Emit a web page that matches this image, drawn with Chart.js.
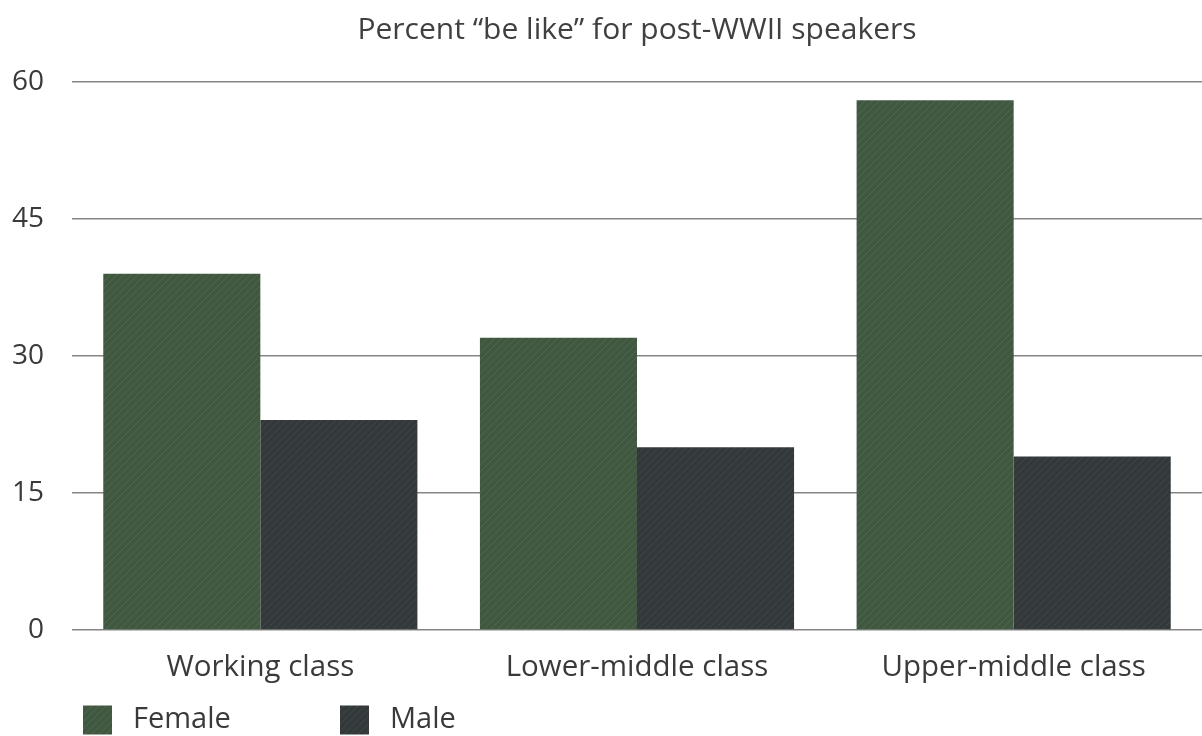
<!DOCTYPE html>
<html>
<head>
<meta charset="utf-8">
<script src="https://cdn.jsdelivr.net/npm/chart.js@4/dist/chart.umd.min.js"></script>
<style>
  html, body { margin: 0; padding: 0; background: #ffffff; }
  #wrap { width: 1202px; height: 736px; position: relative; }
</style>
</head>
<body>
<div id="wrap"><canvas id="c"></canvas></div>
<script>
const categories = ["Working class", "Lower-middle class", "Upper-middle class"];
const femaleValues = [39, 32, 58];
const maleValues = [23, 20, 19];
const seriesNames = ["Female", "Male"];
const yTicks = [0, 15, 30, 45, 60];
const titleText = "Percent \u201cbe like\u201d for post-WWII speakers";

const FONT = "'Open Sans', 'Liberation Sans', sans-serif";

function hatch(base, line) {
  const s = 7;
  const c = document.createElement('canvas');
  c.width = s; c.height = s;
  const g = c.getContext('2d');
  g.fillStyle = base; g.fillRect(0, 0, s, s);
  g.strokeStyle = line; g.lineWidth = 1;
  g.beginPath();
  g.moveTo(0, s); g.lineTo(s, 0);
  g.moveTo(-s, s); g.lineTo(s, -s);
  g.moveTo(0, 2 * s); g.lineTo(2 * s, 0);
  g.stroke();
  return g.createPattern(c, 'repeat');
}

const ctx = document.getElementById('c').getContext('2d');
const femaleFill = hatch('#415840', '#4e664c');
const maleFill = hatch('#33393b', '#3f4648');

const bottomLegend = {
  id: 'bottomLegend',
  afterDraw(chart) {
    const g = chart.ctx;
    const xs = [83, 340];
    const yc = 720;
    const box = 29;
    g.save();
    chart.data.datasets.forEach((ds, i) => {
      g.fillStyle = ds.backgroundColor;
      g.fillRect(xs[i], yc - box / 2, box, box);
      g.fillStyle = '#3a3a3a';
      g.font = "29px " + FONT;
      g.textBaseline = 'middle';
      g.textAlign = 'left';
      g.fillText(ds.label, xs[i] + box + 21, yc);
    });
    g.restore();
  }
};

new Chart(ctx, {
  type: 'bar',
  data: {
    labels: categories,
    datasets: [
      { label: seriesNames[0], data: femaleValues, backgroundColor: femaleFill, borderWidth: 0 },
      { label: seriesNames[1], data: maleValues, backgroundColor: maleFill, borderWidth: 0 }
    ]
  },
  options: {
    responsive: true,
    maintainAspectRatio: false,
    animation: false,
    layout: { padding: { left: 0, right: 0, top: 0, bottom: 50 } },
    datasets: { bar: { categoryPercentage: 0.834, barPercentage: 1.0 } },
    plugins: {
      legend: { display: false },
      tooltip: { enabled: false },
      title: {
        display: true,
        fullSize: false,
        text: titleText,
        color: '#404040',
        font: { family: FONT, size: 30, weight: 'normal' },
        padding: { top: 12, bottom: 34 }
      }
    },
    scales: {
      x: {
        grid: { display: false, drawTicks: false },
        border: { display: false },
        ticks: { color: '#3a3a3a', font: { family: FONT, size: 29.5 }, padding: 20, maxRotation: 0 },
        afterFit(s) { s.height = 56; }
      },
      y: {
        min: 0, max: 60,
        afterBuildTicks(s) { s.ticks = yTicks.map(v => ({ value: v })); },
        grid: { color: '#858585', lineWidth: 1.6, drawTicks: false },
        border: { display: false },
        ticks: { color: '#3a3a3a', font: { family: FONT, size: 28 }, padding: 28 },
        afterFit(s) { s.width = 72; }
      }
    }
  },
  plugins: [bottomLegend]
});
</script>
</body>
</html>
